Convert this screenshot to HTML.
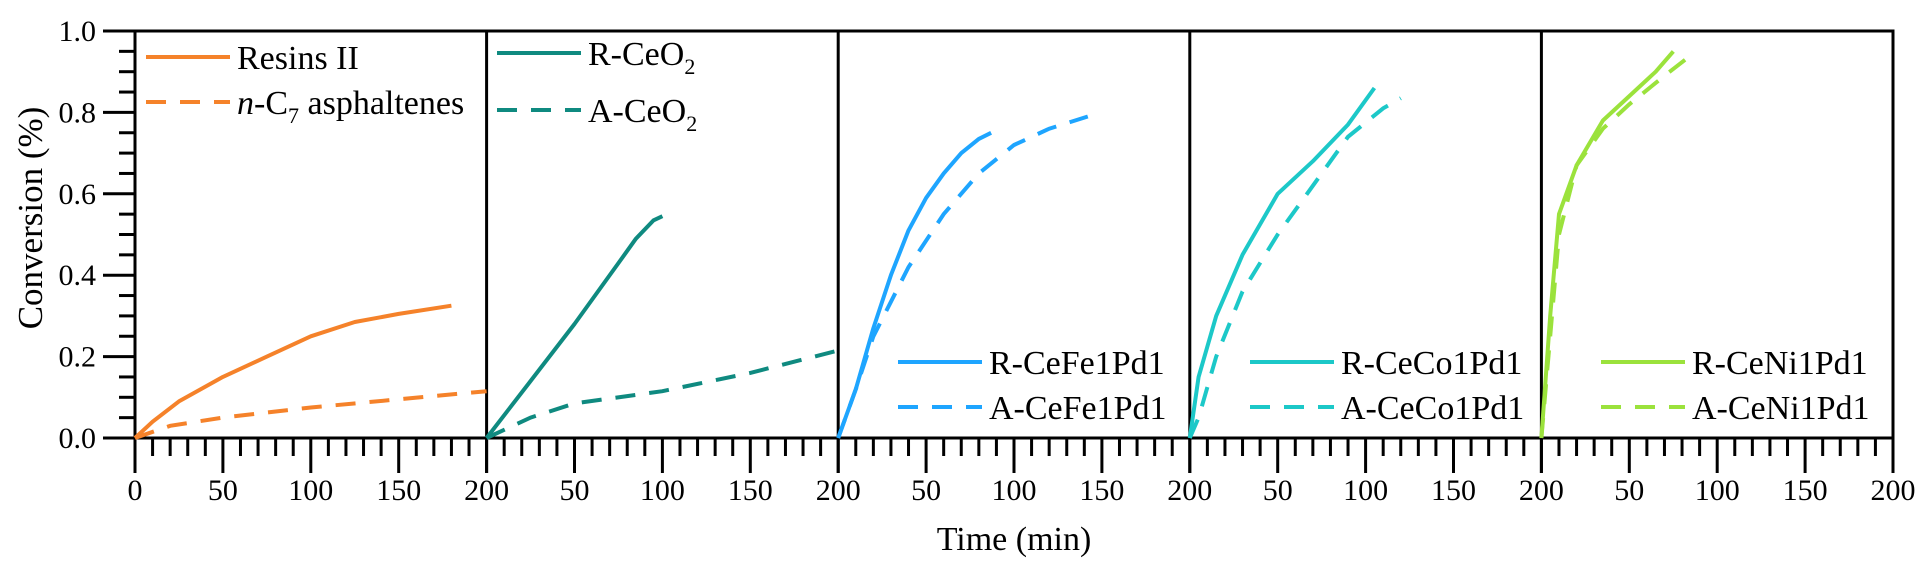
<!DOCTYPE html>
<html><head><meta charset="utf-8"><style>body{margin:0;background:#fff}svg text{font-family:"Liberation Serif","Times New Roman",serif;fill:#000}</style></head>
<body>
<svg width="1926" height="572" xmlns="http://www.w3.org/2000/svg">
<rect width="1926" height="572" fill="#fff"/>
<g id="plot"></g>
</svg>
<script>
const NS="http://www.w3.org/2000/svg",g=document.getElementById('plot');
function el(t,a,txt,par){const e=document.createElementNS(NS,t);for(const k in a)e.setAttribute(k,a[k]);if(t==='text')e.setAttribute('font-family','Liberation Serif, serif');if(txt!==undefined)e.textContent=txt;(par||g).appendChild(e);return e;}
const X0=135,W=351.6,YT=31,YB=438;
const py=c=>YB-c*(YB-YT);
el('rect',{x:X0,y:YT,width:W*5,height:YB-YT,fill:'none',stroke:'#000','stroke-width':3});
for(let i=1;i<5;i++)el('line',{x1:X0+W*i,y1:YT,x2:X0+W*i,y2:YB,stroke:'#000','stroke-width':3});
for(let k=0;k<=20;k++){const y=py(k*0.05);const maj=k%4==0;el('line',{x1:maj?103:119,y1:y,x2:X0,y2:y,stroke:'#000','stroke-width':3});
 if(maj)el('text',{x:96,y:y+10,'font-size':30,'text-anchor':'end'},(k*0.05).toFixed(1));}
for(let p=0;p<5;p++){const x0=X0+W*p;for(let t=0;t<=200;t+=10){const x=x0+t*W/200;const maj=t%50==0;
 el('line',{x1:x,y1:YB,x2:x,y2:maj?473:456,stroke:'#000','stroke-width':3});
 if(maj&&!(t==0&&p>0))el('text',{x:x,y:500,'font-size':30,'text-anchor':'middle'},String(t));}}
el('text',{x:1014,y:550,'font-size':34,'text-anchor':'middle'},'Time (min)');
el('text',{x:0,y:0,'font-size':35,'text-anchor':'middle',transform:'translate(42,218) rotate(-90)'},'Conversion (%)');
const S=[
[0,'#F5822A',[[0,0],[10,.04],[25,.09],[50,.15],[75,.2],[100,.25],[125,.285],[150,.305],[180,.325]],[[0,0],[20,.03],[50,.05],[100,.075],[150,.095],[200,.115]]],
[1,'#0F8A80',[[0,0],[25,.14],[50,.28],[75,.43],[85,.49],[95,.535],[100,.545]],[[0,0],[25,.05],[50,.085],[100,.115],[150,.16],[200,.215]]],
[2,'#1EA5FF',[[0,0],[10,.12],[20,.27],[30,.4],[40,.51],[50,.59],[60,.65],[70,.7],[80,.735],[87,.75]],[[0,0],[10,.12],[20,.25],[40,.42],[60,.55],[80,.65],[100,.72],[120,.76],[142,.79]]],
[3,'#1CC8C8',[[0,0],[5,.15],[15,.3],[30,.45],[50,.6],[70,.68],[90,.77],[105,.86]],[[0,0],[5,.05],[15,.2],[30,.36],[50,.5],[70,.62],[90,.74],[110,.81],[120,.835]]],
[4,'#9BE23C',[[0,0],[5,.3],[10,.55],[20,.67],[35,.78],[50,.84],[65,.9],[75,.95]],[[0,0],[5,.25],[10,.5],[20,.67],[35,.76],[50,.82],[70,.89],[85,.94]]]];
const pts=(p,d)=>d.map(q=>(X0+W*p+q[0]*W/200).toFixed(1)+','+py(q[1]).toFixed(1)).join(' ');
S.forEach(s=>{el('polyline',{points:pts(s[0],s[2]),fill:'none',stroke:s[1],'stroke-width':4,'stroke-linejoin':'round'});
 el('polyline',{points:pts(s[0],s[3]),fill:'none',stroke:s[1],'stroke-width':4,'stroke-dasharray':'20,14'});});
function txt(x,y,parts){const t=el('text',{x:x,y:y,'font-size':34});parts.forEach(p=>el('tspan',p[1]||{},p[0],t));}
function leg(x,y1,y2,c,p1,p2){el('line',{x1:x,y1:y1,x2:x+84,y2:y1,stroke:c,'stroke-width':4});
 el('line',{x1:x,y1:y2,x2:x+84,y2:y2,stroke:c,'stroke-width':4,'stroke-dasharray':'20,14'});
 txt(x+91,y1+12,p1);txt(x+91,y2+12,p2);}
const sub=v=>[v,{'font-size':22,dy:9}];
leg(146,57,102,'#F5822A',[['Resins II']],[['n',{'font-style':'italic'}],['-C'],sub('7'),[' asphaltenes',{dy:-9}]]);
leg(497,53,110,'#0F8A80',[['R-CeO'],sub('2')],[['A-CeO'],sub('2')]);
leg(898,362,407,'#1EA5FF',[['R-CeFe1Pd1']],[['A-CeFe1Pd1']]);
leg(1250,362,407,'#1CC8C8',[['R-CeCo1Pd1']],[['A-CeCo1Pd1']]);
leg(1601,362,407,'#9BE23C',[['R-CeNi1Pd1']],[['A-CeNi1Pd1']]);
</script>
</body></html>
